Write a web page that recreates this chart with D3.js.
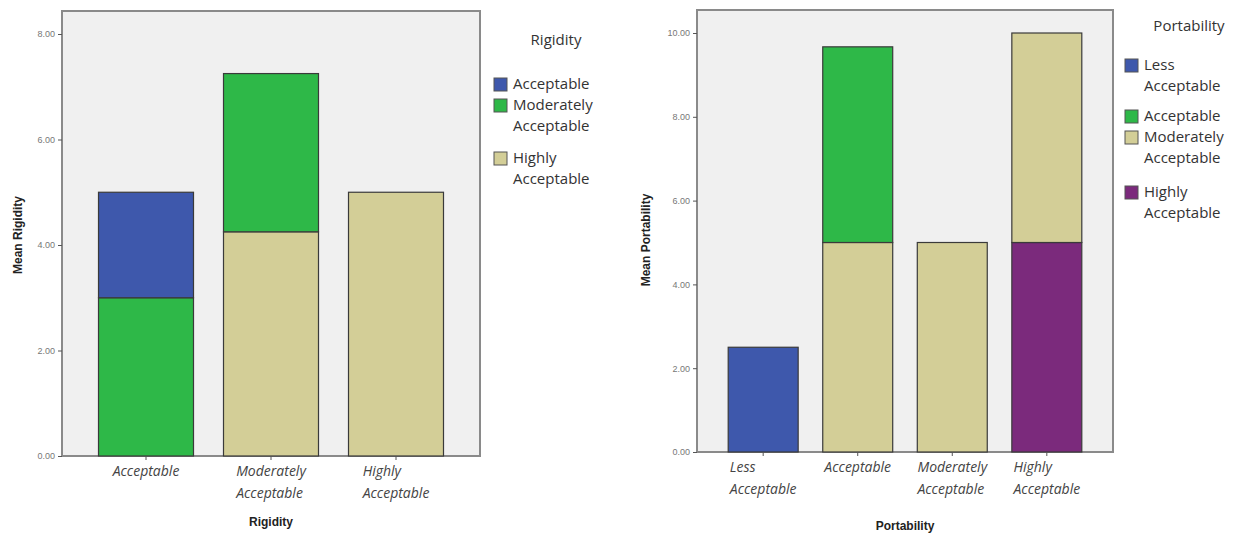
<!DOCTYPE html>
<html>
<head>
<meta charset="utf-8">
<script src="https://cdn.jsdelivr.net/npm/d3@7"></script>
<style>
  body { margin: 0; background: #fff; }
  text { font-family: "Open Sans", "Noto Sans", sans-serif; }
  .tick text { font-family: Arial, "Liberation Sans", sans-serif; }
</style>
</head>
<body>
<div id="chart"></div>
<script>
// rigidity chart
var rigidityCats = ["Acceptable", "Moderately Acceptable", "Highly Acceptable"]
var rigiditySeries = ["Acceptable", "Moderately Acceptable", "Highly Acceptable"]
var rigidityValues = [
  [2.0, 3.0, 0],     // Acceptable: blue on top of green
  [0, 3.0, 4.25],
  [0, 0, 5.0]
]
var rigidityTicks = [0, 2, 4, 6, 8]

// portability chart
var portCats = ["Less Acceptable", "Acceptable", "Moderately Acceptable", "Highly Acceptable"]
var portSeries = ["Less Acceptable", "Acceptable", "Moderately Acceptable", "Highly Acceptable"]
var portValues = [
  [2.5, 0, 0, 0],
  [0, 4.67, 5.0, 0],
  [0, 0, 5.0, 0],
  [0, 0, 5.0, 5.0]
]
var portTicks = [0, 2, 4, 6, 8, 10]

var rigidityColors = {"Acceptable": "#3e58ac", "Moderately Acceptable": "#2eb848", "Highly Acceptable": "#d3ce97"}
var portColors = {"Less Acceptable": "#3e58ac", "Acceptable": "#2eb848", "Moderately Acceptable": "#d3ce97", "Highly Acceptable": "#7b2a7c"}

// stacking order from bottom
var rigidityStackOrder = ["Highly Acceptable", "Moderately Acceptable", "Acceptable"]
var portStackOrder = ["Highly Acceptable", "Moderately Acceptable", "Acceptable", "Less Acceptable"]

var svg = d3.select("#chart").append("svg")
  .attr("width", 1252)
  .attr("height", 540)

function drawChart(opt) {
  var g = svg.append("g")

  var x = d3.scaleBand()
    .domain(opt.cats)
    .range([opt.left, opt.right])
    .paddingInner(opt.pin)
    .paddingOuter(opt.pout)

  var y = d3.scaleLinear()
    .domain([0, opt.ymax])
    .range([opt.bottom, opt.y0top])

  // plot background
  g.append("rect")
    .attr("x", opt.left)
    .attr("y", opt.top)
    .attr("width", opt.right - opt.left)
    .attr("height", opt.bottom - opt.top)
    .style("fill", "#f0f0f0")
    .style("stroke", "#8a8a8a")
    .style("stroke-width", 2)

  // bars
  opt.cats.forEach(function(c, i) {
    var base = 0
    opt.stackOrder.forEach(function(s) {
      var v = opt.values[i][opt.series.indexOf(s)]
      if (!v) return
      g.append("rect")
        .attr("x", x(c))
        .attr("y", y(base + v))
        .attr("width", x.bandwidth())
        .attr("height", y(base) - y(base + v))
        .style("fill", opt.colors[s])
        .style("stroke", "#3a3a3a")
        .style("stroke-width", 1.2)
      base += v
    })
  })

  // y axis
  var yAxis = d3.axisLeft(y)
    .tickValues(opt.ticks)
    .tickFormat(d3.format(".2f"))
    .tickSize(4)
  var ya = g.append("g")
    .attr("transform", "translate(" + opt.left + ",0)")
    .call(yAxis)
  ya.select(".domain").remove()
  ya.selectAll(".tick line").style("stroke", "#555")
  ya.selectAll(".tick text").style("font-size", "9px").style("fill", "#777")

  // x ticks
  var xa = g.append("g")
    .attr("transform", "translate(0," + opt.bottom + ")")
    .call(d3.axisBottom(x).tickSize(4).tickFormat(""))
  xa.select(".domain").remove()
  xa.selectAll(".tick line").style("stroke", "#555")

  // x labels: block centred under tick, lines left-aligned
  opt.cats.forEach(function(c) {
    var lines = opt.labelLines[c]
    var cx = x(c) + x.bandwidth() / 2
    var t = g.append("text")
      .attr("y", opt.bottom + 20)
      .style("font-style", "italic")
      .style("font-size", "14px")
      .style("fill", "#444")
    var spans = lines.map(function(l, k) {
      return t.append("tspan")
        .attr("dy", k == 0 ? 0 : 22)
        .text(l)
    })
    var w = d3.max(spans, function(s) { return s.node().getComputedTextLength() })
    spans.forEach(function(s) { s.attr("x", cx - w / 2) })
  })

  // axis titles
  g.append("text")
    .attr("x", (opt.left + opt.right) / 2)
    .attr("y", opt.xTitleY)
    .attr("text-anchor", "middle")
    .style("font-family", "Arial, 'Liberation Sans', sans-serif")
    .style("font-weight", "bold")
    .style("font-size", "12px")
    .style("fill", "#222")
    .text(opt.xTitle)

  g.append("text")
    .attr("transform", "translate(" + opt.yTitleX + "," + opt.yTitleY + ") rotate(-90)")
    .attr("text-anchor", "middle")
    .style("font-family", "Arial, 'Liberation Sans', sans-serif")
    .style("font-weight", "bold")
    .style("font-size", "12px")
    .style("fill", "#222")
    .text(opt.yTitle)

  // legend
  g.append("text")
    .attr("x", opt.legTitleX)
    .attr("y", opt.legTitleY)
    .attr("text-anchor", "middle")
    .style("font-size", "15px")
    .style("fill", "#333")
    .text(opt.legTitle)

  opt.legItems.forEach(function(it) {
    g.append("rect")
      .attr("x", opt.legX)
      .attr("y", it.y - 11)
      .attr("width", 13)
      .attr("height", 13)
      .style("fill", opt.colors[it.key])
      .style("stroke", "#555")
      .style("stroke-width", 1)
    var t = g.append("text")
      .attr("x", opt.legX + 19)
      .attr("y", it.y)
      .style("font-size", "15px")
      .style("fill", "#333")
    it.lines.forEach(function(l, k) {
      t.append("tspan")
        .attr("x", opt.legX + 19)
        .attr("dy", k == 0 ? 0 : 21)
        .text(l)
    })
  })
}

drawChart({
  cats: rigidityCats, series: rigiditySeries, values: rigidityValues, ticks: rigidityTicks,
  colors: rigidityColors, stackOrder: rigidityStackOrder,
  left: 62, right: 480, top: 11, bottom: 456, y0top: 34, ymax: 8,
  pin: 0.24, pout: 0.292,
  labelLines: {"Acceptable": ["Acceptable"], "Moderately Acceptable": ["Moderately", "Acceptable"], "Highly Acceptable": ["Highly", "Acceptable"]},
  xTitle: "Rigidity", xTitleY: 526,
  yTitle: "Mean Rigidity", yTitleX: 22, yTitleY: 235,
  legTitle: "Rigidity", legTitleX: 556, legTitleY: 45,
  legX: 494,
  legItems: [
    {key: "Acceptable", y: 89, lines: ["Acceptable"]},
    {key: "Moderately Acceptable", y: 110, lines: ["Moderately", "Acceptable"]},
    {key: "Highly Acceptable", y: 163, lines: ["Highly", "Acceptable"]}
  ]
})

drawChart({
  cats: portCats, series: portSeries, values: portValues, ticks: portTicks,
  colors: portColors, stackOrder: portStackOrder,
  left: 697, right: 1113, top: 10, bottom: 452, y0top: 33, ymax: 10,
  pin: 0.26, pout: 0.33,
  labelLines: {"Less Acceptable": ["Less", "Acceptable"], "Acceptable": ["Acceptable"], "Moderately Acceptable": ["Moderately", "Acceptable"], "Highly Acceptable": ["Highly", "Acceptable"]},
  xTitle: "Portability", xTitleY: 530,
  yTitle: "Mean Portability", yTitleX: 650, yTitleY: 240,
  legTitle: "Portability", legTitleX: 1189, legTitleY: 31,
  legX: 1125,
  legItems: [
    {key: "Less Acceptable", y: 70, lines: ["Less", "Acceptable"]},
    {key: "Acceptable", y: 121, lines: ["Acceptable"]},
    {key: "Moderately Acceptable", y: 142, lines: ["Moderately", "Acceptable"]},
    {key: "Highly Acceptable", y: 197, lines: ["Highly", "Acceptable"]}
  ]
})
</script>
</body>
</html>
